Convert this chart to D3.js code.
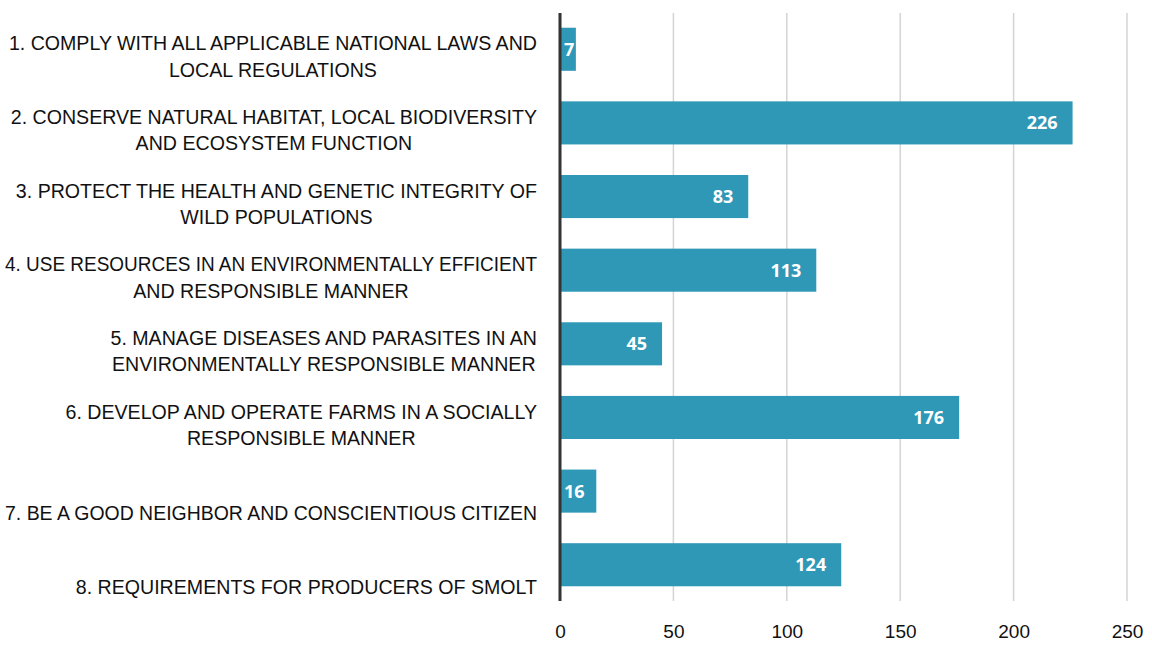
<!DOCTYPE html>
<html><head><meta charset="utf-8">
<script src="https://cdn.jsdelivr.net/npm/d3@7"></script>
<style>body{margin:0;background:#fff}svg{display:block}</style>
</head><body>
<svg id="c" width="1152" height="646"></svg>
<script>
const categories = [
  ["1. COMPLY WITH ALL APPLICABLE NATIONAL LAWS AND", "LOCAL REGULATIONS"],
  ["2. CONSERVE NATURAL HABITAT, LOCAL BIODIVERSITY", "AND ECOSYSTEM FUNCTION"],
  ["3. PROTECT THE HEALTH AND GENETIC INTEGRITY OF", "WILD POPULATIONS"],
  ["4. USE RESOURCES IN AN ENVIRONMENTALLY EFFICIENT", "AND RESPONSIBLE MANNER"],
  ["5. MANAGE DISEASES AND PARASITES IN AN", "ENVIRONMENTALLY RESPONSIBLE MANNER"],
  ["6. DEVELOP AND OPERATE FARMS IN A SOCIALLY", "RESPONSIBLE MANNER"],
  ["7. BE A GOOD NEIGHBOR AND CONSCIENTIOUS CITIZEN"],
  ["8. REQUIREMENTS FOR PRODUCERS OF SMOLT"]
];
const values = [7, 226, 83, 113, 45, 176, 16, 124];
const ticks = [0, 50, 100, 150, 200, 250];

const svg = d3.select("#c");
const font = "'Liberation Sans', sans-serif";
const x = d3.scaleLinear().domain([0, 250]).range([560, 1127]);
const y = d3.scaleBand().domain(d3.range(values.length)).range([13, 601]).paddingInner(0.415).paddingOuter(0.2);

// gridlines
svg.append("g").selectAll("line").data(ticks.slice(1)).join("line")
  .attr("x1", d => x(d)).attr("x2", d => x(d)).attr("y1", 13).attr("y2", 601)
  .attr("stroke", "#d4d4d4").attr("stroke-width", 1.5);

// tick labels
const axis = d3.axisBottom(x).tickValues(ticks).tickSize(0).tickPadding(0);
const ag = svg.append("g").attr("transform", "translate(0,624)").call(axis);
ag.select(".domain").remove();
ag.selectAll("text").attr("font-family", font).attr("font-size", 19).attr("fill", "#111").attr("dy", "0.71em");

// bars
svg.append("g").selectAll("rect").data(values).join("rect")
  .attr("x", x(0)).attr("y", (d, i) => y(i)).attr("width", d => x(d) - x(0)).attr("height", y.bandwidth())
  .attr("fill", "#2f98b7");

// value labels
const vl = svg.append("g").selectAll("text").data(values).join("text")
  .attr("y", (d, i) => y(i) + y.bandwidth() / 2).attr("dy", "0.36em")
  .attr("text-anchor", "end").attr("font-family", "'Open Sans', sans-serif").attr("font-weight", "bold")
  .attr("font-size", 18).attr("fill", "#fff").text(d => d);
vl.each(function(d) {
  const w = this.getComputedTextLength();
  d3.select(this).attr("x", Math.max(x(d) - 15, x(0) + 4 + w));
});

// axis line
svg.append("line").attr("x1", x(0)).attr("x2", x(0)).attr("y1", 13).attr("y2", 601)
  .attr("stroke", "#333").attr("stroke-width", 3);

// category labels
const maxW = 532;
const lg = svg.append("g");
categories.forEach((lines, i) => {
  const cy = y(i) + y.bandwidth() / 2;
  const g = lg.append("g");
  const ts = lines.map((t, j) => g.append("text").attr("font-family", font).attr("font-size", 19.6)
    .attr("fill", "#111").attr("text-anchor", "middle").attr("dy", "0.36em")
    .attr("y", lines.length === 2 ? cy - 6 + 26.5 * j : cy + 22).text(t));
  ts.forEach(t => {
    const w = t.node().getComputedTextLength();
    if (w > maxW) t.attr("textLength", maxW).attr("lengthAdjust", "spacingAndGlyphs");
  });
  const wmax = d3.max(ts, t => Math.min(maxW, t.node().getComputedTextLength()));
  ts.forEach(t => t.attr("x", 537 - wmax / 2));
});
</script>
</body></html>
